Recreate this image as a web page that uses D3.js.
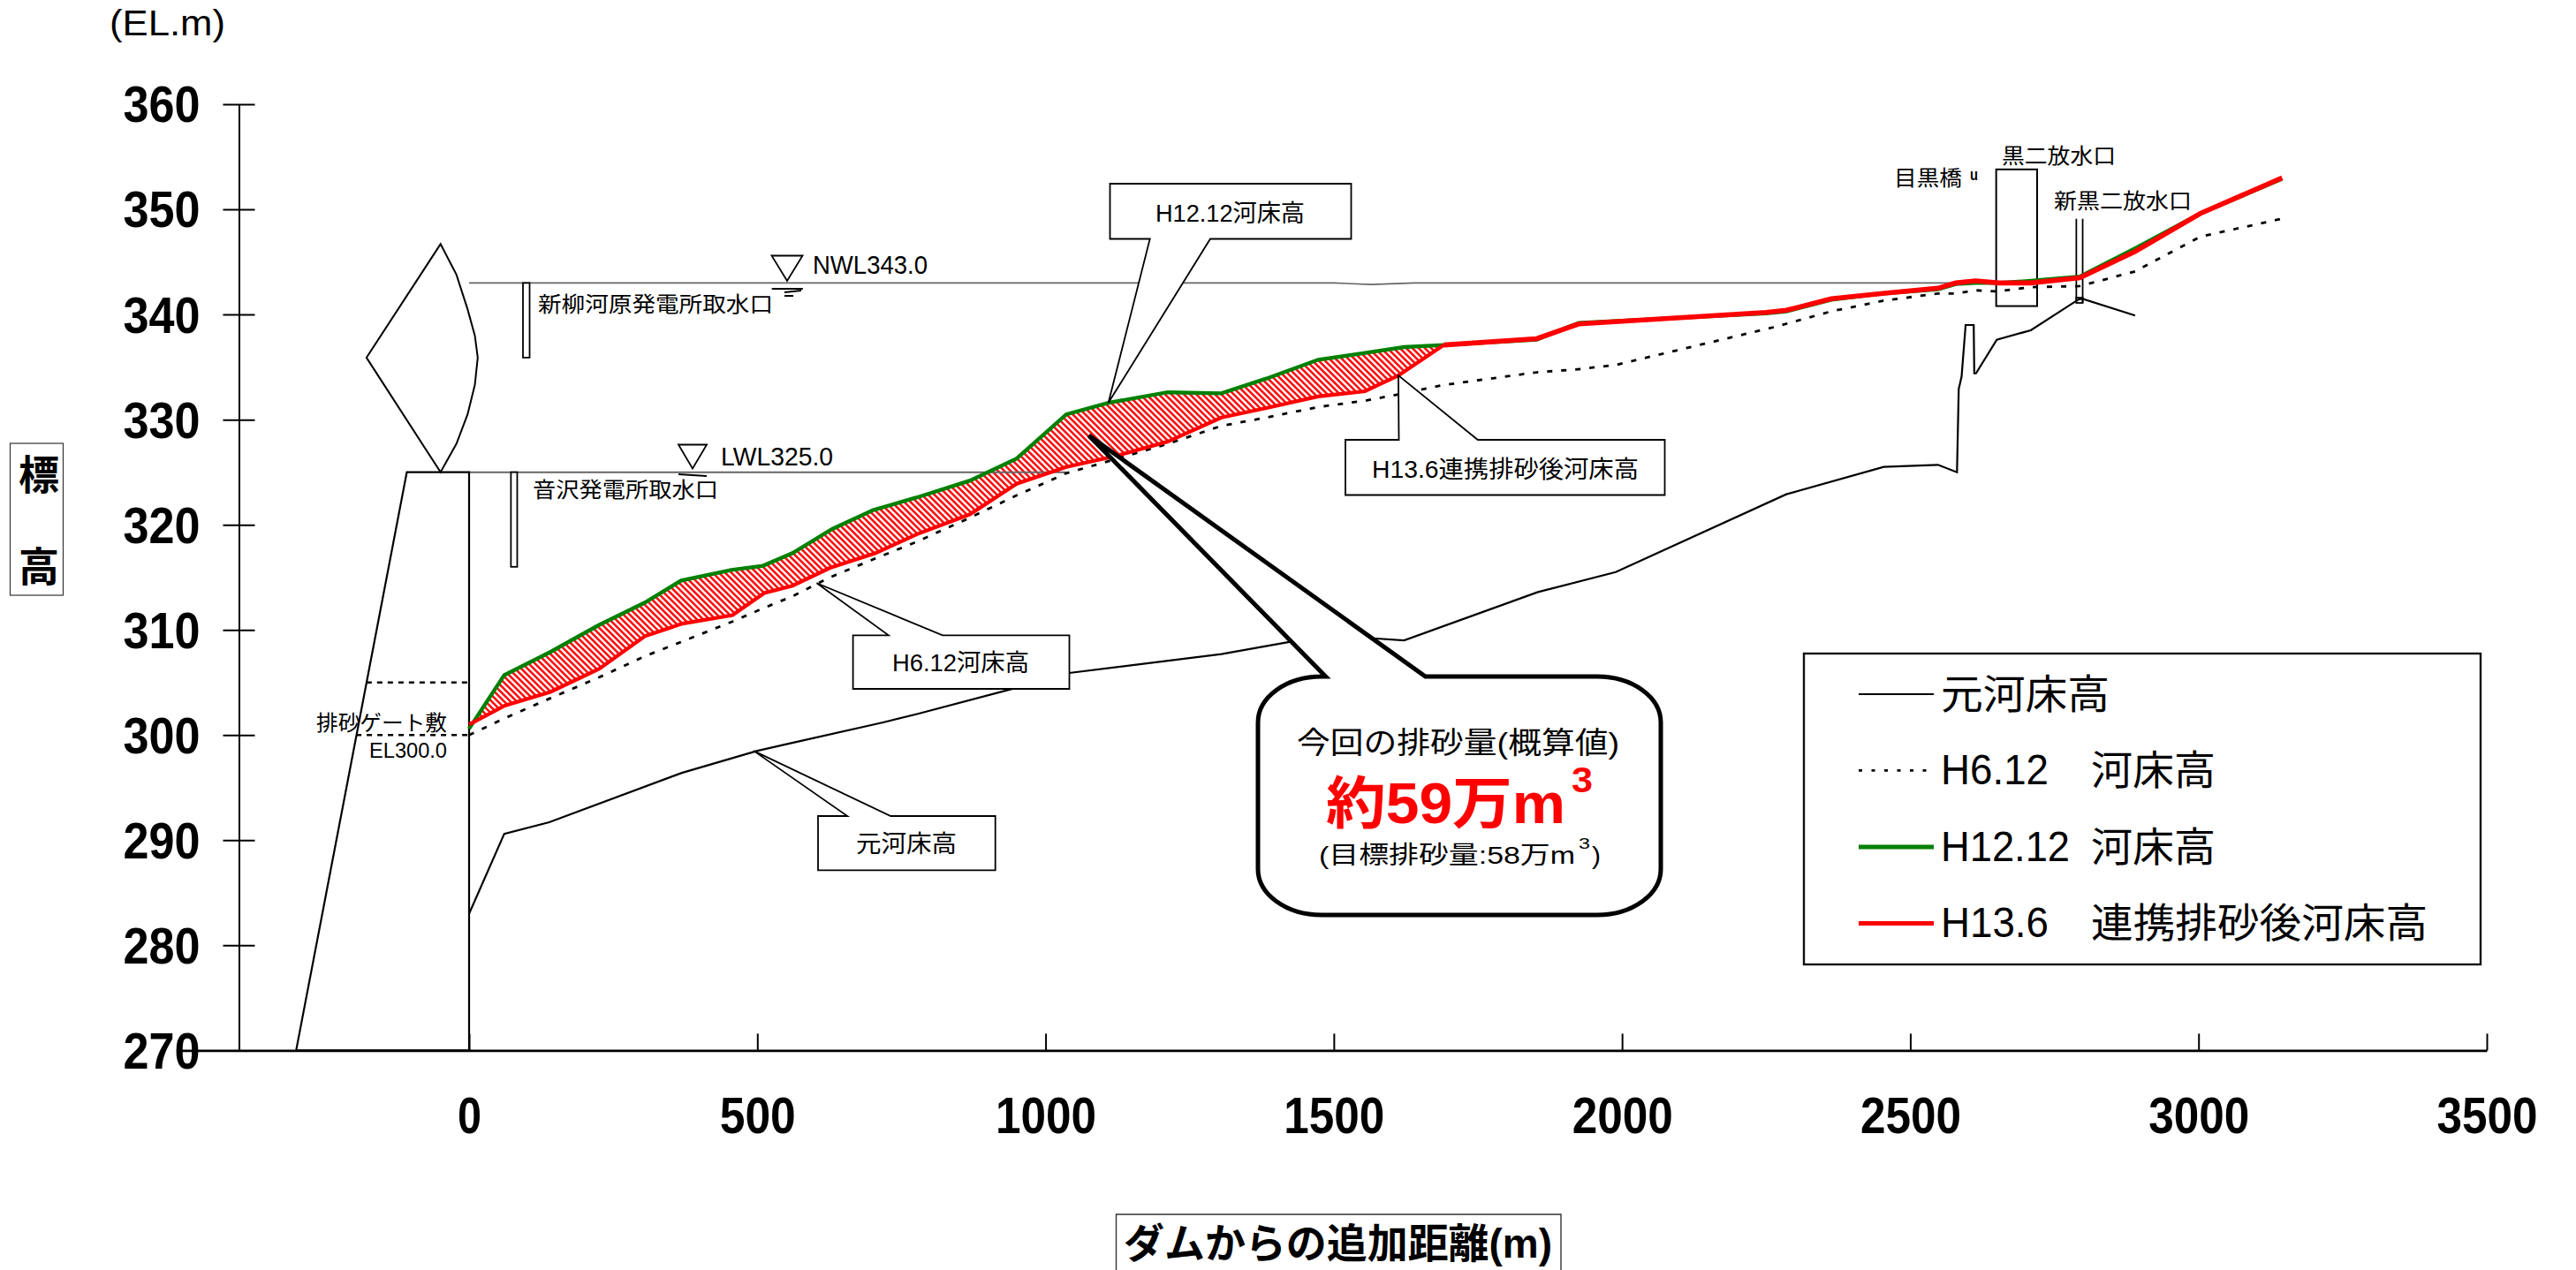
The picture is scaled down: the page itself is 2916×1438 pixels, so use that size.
<!DOCTYPE html>
<html>
<head>
<meta charset="utf-8">
<script src="https://d3js.org/d3.v7.min.js"></script>
<style>
body { margin: 0; background: #fff; }
text { font-family: "Liberation Sans", "Noto Sans CJK JP", sans-serif; fill: #000; }
</style>
</head>
<body>
<svg width="2916" height="1438"></svg>
<script>
// values: distance from dam (m), elevation (EL.m)
var xTicks = [0, 500, 1000, 1500, 2000, 2500, 3000, 3500];
var yTicks = [270, 280, 290, 300, 310, 320, 330, 340, 350, 360];

var originalBed = [[0,283],[61,290.6],[139,291.7],[369,296.4],[500,298.5],[564,299.3],[718,301.2],[777,302],[943,304.4],[1041,305.9],[1305,307.7],[1427,308.9],[1568,309.2],[1622,309],[1854,313.6],[1989,315.5],[2285,322.9],[2454,325.5],[2548,325.7],[2581,325],[2584,332.9],[2589,334.1],[2596,339],[2610,339],[2611,334.4],[2614,334.4],[2650,337.6],[2709,338.5],[2791,341.4],[2798,341.5],[2890,339.9]];

var h6 = [[0,300],[62,301.6],[141,303.5],[226,305.5],[305,307.5],[370,308.9],[457,310.8],[512,312.1],[561,313.2],[626,315],[705,316.8],[777,318.4],[866,320.6],[950,322.8],[1036,324.9],[1119,326.2],[1212,327.7],[1305,329.4],[1383,330.2],[1473,331.2],[1554,331.8],[1612,332.4],[1691,333.3],[1852,334.5],[1925,334.8],[1989,335.2],[2264,338.8],[2363,340.3],[2452,341.3],[2548,342],[2579,342],[2613,342.3],[2651,342.2],[2709,342.6],[2794,342.7],[2890,344.1],[3003,347.4],[3144,349.1]];

var h12 = [[0,300.6],[61,305.7],[141,307.9],[223,310.4],[305,312.6],[368,314.7],[455,315.7],[510,316.1],[561,317.3],[630,319.6],[701,321.4],[777,322.6],[869,324.2],[950,326.3],[1036,330.5],[1109,331.6],[1212,332.6],[1305,332.5],[1383,333.9],[1473,335.7],[1549,336.3],[1622,336.9],[1691,337.1],[1852,337.6],[1925,339.2],[2250,340.1],[2285,340.3],[2363,341.4],[2452,342],[2548,342.4],[2579,342.9],[2613,343],[2654,343],[2709,343.2],[2794,343.6],[2890,346.3],[3003,349.6],[3145,352.9]];

var h13 = [[0,301],[62,302.8],[141,304.1],[226,306.3],[305,309.4],[370,310.6],[457,311.4],[512,313.5],[561,314.2],[626,315.9],[705,317.3],[777,319.1],[869,321],[950,323.9],[1036,325.5],[1119,326.5],[1212,327.9],[1305,330.2],[1383,331.1],[1473,332.2],[1554,332.7],[1612,334.2],[1691,337.1],[1852,337.7],[1925,339.1],[2250,340.2],[2285,340.4],[2363,341.5],[2452,342],[2548,342.5],[2579,343],[2613,343.2],[2654,343],[2709,343],[2794,343.5],[2890,346],[3003,349.6],[3145,353]];

var damBody = [[-300,270],[-108,325],[0,325],[0,270]];
var damCrest = [[-49.5,346.7],[-22,343.8],[-2.6,340.5],[10,338],[15,335.9],[10,333.3],[-2.6,330.5],[-22,327.7],[-49.5,325],[-178,335.9]];
var nwlLine = [[0,343],[1500,343],[1565,342.85],[1640,343],[2579,343]];
var lwlLine = [[0,325],[1036,325]];
var intakes = [[93.5,105,343,335.9],[72.6,83.5,325,316]];
var gateLevels = [[-178,0,305],[-196,2,300]];
var outletBox = [2649,2720,353.8,340.8];
var newOutlet = [[2788,349.1,341.1],[2799,349.1,341.1]];
var newOutletBox = [2788,2799,341.6,341.1];

var legendNames = ["元河床高", "H6.12", "H12.12", "H13.6"];
var legendSuffix = ["", "河床高", "河床高", "連携排砂後河床高"];

var svg = d3.select("svg");
var x = d3.scaleLinear().domain([-504, 3500]).range([202.1, 2815]);
var y = d3.scaleLinear().domain([270, 360]).range([1189.4, 118]);
var line = d3.line().x(function(d) { return x(d[0]); }).y(function(d) { return y(d[1]); });

// left-to-right text squeezed to the width it has in the picture
function label(txt, x0, base, w, size, opts) {
    opts = opts || {};
    return svg.append("text")
        .attr("x", x0).attr("y", base)
        .attr("font-size", size)
        .attr("font-weight", opts.bold ? "bold" : "normal")
        .attr("textLength", w).attr("lengthAdjust", "spacingAndGlyphs")
        .style("fill", opts.fill || "#000")
        .text(txt);
}

// hatched sediment area between H12.12 and H13.6: stripes clipped to the area
var upper = h12.filter(function(d) { return d[0] <= 1691; });
var lower = h13.filter(function(d) { return d[0] <= 1691; }).reverse();
svg.append("defs").append("clipPath").attr("id", "sediment")
    .append("path").attr("d", line(upper.concat(lower)) + "Z");
var hatchTop = y(340), hatchHeight = y(300) - y(340);
svg.append("g").attr("clip-path", "url(#sediment)")
    .selectAll("line")
    .data(d3.range(x(0) - hatchHeight, x(1700), 7.07))
    .enter().append("line")
    .attr("x1", function(d) { return d; })
    .attr("y1", hatchTop)
    .attr("x2", function(d) { return d + hatchHeight; })
    .attr("y2", hatchTop + hatchHeight)
    .attr("stroke", "#ff1010").attr("stroke-width", 2.6);

// reservoir levels
svg.append("path").attr("d", line(nwlLine)).attr("fill", "none").attr("stroke", "#666").attr("stroke-width", 1.6);
svg.append("path").attr("d", line(lwlLine)).attr("fill", "none").attr("stroke", "#666").attr("stroke-width", 2);

// dam
svg.append("path").attr("d", line(damBody) + "Z").attr("fill", "none").attr("stroke", "#000").attr("stroke-width", 2.2);
svg.append("path").attr("d", line(damCrest) + "Z").attr("fill", "none").attr("stroke", "#000").attr("stroke-width", 2);
gateLevels.forEach(function(d) {
    svg.append("line").attr("x1", x(d[0])).attr("x2", x(d[1])).attr("y1", y(d[2])).attr("y2", y(d[2]))
        .attr("stroke", "#000").attr("stroke-width", 2.4).attr("stroke-dasharray", "6 6");
});
intakes.forEach(function(d) {
    svg.append("rect").attr("x", x(d[0])).attr("y", y(d[2])).attr("width", x(d[1]) - x(d[0])).attr("height", y(d[3]) - y(d[2]))
        .attr("fill", "#fff").attr("stroke", "#000").attr("stroke-width", 1.8);
});

// outlets
svg.append("rect").attr("x", x(outletBox[0])).attr("y", y(outletBox[2]))
    .attr("width", x(outletBox[1]) - x(outletBox[0])).attr("height", y(outletBox[3]) - y(outletBox[2]))
    .attr("fill", "none").attr("stroke", "#000").attr("stroke-width", 2);
newOutlet.forEach(function(d) {
    svg.append("line").attr("x1", x(d[0])).attr("x2", x(d[0])).attr("y1", y(d[1])).attr("y2", y(d[2]))
        .attr("stroke", "#000").attr("stroke-width", 1.8);
});
svg.append("rect").attr("x", x(newOutletBox[0])).attr("y", y(newOutletBox[2]))
    .attr("width", x(newOutletBox[1]) - x(newOutletBox[0])).attr("height", y(newOutletBox[3]) - y(newOutletBox[2]))
    .attr("fill", "none").attr("stroke", "#000").attr("stroke-width", 1.8);

// river bed lines
svg.append("path").attr("d", line(originalBed)).attr("fill", "none").attr("stroke", "#000").attr("stroke-width", 2.2);
svg.append("path").attr("d", line(h6)).attr("fill", "none").attr("stroke", "#000").attr("stroke-width", 2.8).attr("stroke-dasharray", "6 10");
svg.append("path").attr("d", line(h12)).attr("fill", "none").attr("stroke", "#008000").attr("stroke-width", 4.4);
svg.append("path").attr("d", line(h13.filter(function(d) { return d[0] <= 1691; })))
    .attr("fill", "none").attr("stroke", "#ff0000").attr("stroke-width", 4.2);
// past the flushing reach the red runs heavier
svg.append("path").attr("d", line(h13.filter(function(d) { return d[0] >= 1691; })))
    .attr("fill", "none").attr("stroke", "#ff0000").attr("stroke-width", 5.6);

// axes
var yAxis = svg.append("g").attr("transform", "translate(270.5,0)")
    .call(d3.axisLeft(y).tickValues(yTicks).tickSizeOuter(0).tickSizeInner(0).tickFormat(d3.format("d")));
yAxis.selectAll(".tick line").attr("x1", -18).attr("x2", 18).attr("stroke", "#000").attr("stroke-width", 2);
yAxis.select(".domain").attr("stroke", "#000").attr("stroke-width", 2);
yAxis.selectAll("text").attr("x", -44).attr("dy", "0.35em")
    .attr("font-size", 57).attr("font-weight", "bold")
    .attr("textLength", 87).attr("lengthAdjust", "spacingAndGlyphs");

var xAxis = svg.append("g").attr("transform", "translate(0,1189.4)")
    .call(d3.axisBottom(x).tickValues(xTicks).tickSizeOuter(0).tickSizeInner(-19).tickFormat(d3.format("d")));
xAxis.selectAll(".tick line").attr("stroke", "#000").attr("stroke-width", 2);
xAxis.select(".domain").attr("stroke", "#000").attr("stroke-width", 2.6);
xAxis.selectAll("text").attr("y", 94).attr("dy", 0)
    .attr("font-size", 57).attr("font-weight", "bold")
    .attr("textLength", function(d) { return d === 0 ? 27 : (d < 1000 ? 86 : 114); })
    .attr("lengthAdjust", "spacingAndGlyphs");
svg.selectAll(".tick text").style("fill", "#000").attr("font-family", null);

// axis titles
svg.append("rect").attr("x", 11.5).attr("y", 502).attr("width", 60).attr("height", 172)
    .attr("fill", "#fff").attr("stroke", "#333").attr("stroke-width", 1.2);
label("標", 21, 554, 46, 46, {bold: true});
label("高", 21, 658, 46, 46, {bold: true});
label("(EL.m)", 124, 40, 131, 40);

svg.append("path").attr("d", "M1263.5,1438V1375H1767V1438").attr("fill", "none").attr("stroke", "#333").attr("stroke-width", 1.4);
label("ダムからの追加距離(m)", 1272, 1424, 485, 46, {bold: true});

// level marks
function levelMark(cx, top, bottom, half) {
    svg.append("path").attr("d", "M" + (cx - half) + "," + top + "H" + (cx + half) + "L" + cx + "," + bottom + "Z")
        .attr("fill", "#fff").attr("stroke", "#000").attr("stroke-width", 1.8);
}
levelMark(891, 289.5, 318, 17.5);
levelMark(784, 503.5, 530.5, 16);
svg.append("path").attr("d", "M873.7,327H908.8M888,331L907,329M888,335H898").attr("fill", "none").attr("stroke", "#000").attr("stroke-width", 1.8);
svg.append("path").attr("d", "M768,537L800,539").attr("fill", "none").attr("stroke", "#000").attr("stroke-width", 1.8);

label("NWL343.0", 920, 310, 130, 30);
label("LWL325.0", 816, 527, 127, 29);
label("新柳河原発電所取水口", 609, 353, 266, 24);
label("音沢発電所取水口", 603, 563, 210, 24);
label("排砂ゲート敷", 358, 827, 148, 24);
label("EL300.0", 418, 858, 88, 23);
label("目黒橋", 2144, 210, 77, 24);
label("u", 2230, 204, 9, 18, {bold: true});
label("黒二放水口", 2266, 185, 129, 24);
label("新黒二放水口", 2325, 236, 156, 24);

// callouts: box plus pointer with its tip on a river bed
function callout(bx0, by0, bx1, by1, tx, ty, p0, p1, edge, width) {
    var d;
    if (edge === "top") {
        d = "M" + bx0 + "," + by0 + "H" + p0 + "L" + tx + "," + ty + "L" + p1 + "," + by0 + "H" + bx1 + "V" + by1 + "H" + bx0 + "Z";
    } else {
        d = "M" + bx0 + "," + by0 + "H" + bx1 + "V" + by1 + "H" + p1 + "L" + tx + "," + ty + "L" + p0 + "," + by1 + "H" + bx0 + "Z";
    }
    svg.append("path").attr("d", d).attr("fill", "#fff").attr("stroke", "#000").attr("stroke-width", width);
}
callout(1256.5, 208, 1529.5, 270.5, x(1109), y(331.6), 1301.7, 1370, "bottom", 1.8);
callout(1523, 498, 1884.5, 560.5, x(1612), y(334.2), 1583.5, 1672.8, "top", 1.8);
callout(965.6, 719.3, 1210.5, 780, x(603), y(314.45), 1005.8, 1067, "top", 1.8);
callout(926, 924, 1126.7, 985.3, x(493.5), y(298.5), 959.3, 1008.3, "top", 1.8);
label("H12.12河床高", 1308, 251, 169, 27);
label("H13.6連携排砂後河床高", 1553, 541, 302, 27);
label("H6.12河床高", 1010, 760, 155, 27);
label("元河床高", 969, 965, 114, 27);

// big callout with volume
var bl = 1424, br = 1880, bt = 766, bb = 1036, rx = 72, ry = 52;
svg.append("path").attr("d",
    "M" + (bl + rx) + "," + bt + "H1500.6L" + x(1075) + "," + y(328.5) + "L1613.5," + bt + "H" + (br - rx) +
    "A" + rx + "," + ry + " 0 0 1 " + br + "," + (bt + ry) + "V" + (bb - ry) +
    "A" + rx + "," + ry + " 0 0 1 " + (br - rx) + "," + bb + "H" + (bl + rx) +
    "A" + rx + "," + ry + " 0 0 1 " + bl + "," + (bb - ry) + "V" + (bt + ry) +
    "A" + rx + "," + ry + " 0 0 1 " + (bl + rx) + "," + bt + "Z")
    .attr("fill", "#fff").attr("stroke", "#000").attr("stroke-width", 5);
label("今回の排砂量(概算値)", 1468, 853, 365, 34);
label("約59万m", 1501, 932, 271, 64, {bold: true, fill: "#ff0000"});
label("3", 1779, 897, 24, 40, {bold: true, fill: "#ff0000"});
label("(目標排砂量:58万m", 1493, 978, 290, 28);
label("3", 1787, 961, 13, 17);
label(")", 1802, 978, 10, 28);

// legend
svg.append("rect").attr("x", 2042).attr("y", 740).attr("width", 766).attr("height", 352)
    .attr("fill", "#fff").attr("stroke", "#111").attr("stroke-width", 2.4);
var legendY = d3.scalePoint().domain(legendNames).range([786, 1045.4]);
var legendStyle = [
    {stroke: "#000", width: 2, dash: null},
    {stroke: "#000", width: 2.8, dash: "4 10.5"},
    {stroke: "#008000", width: 5, dash: null},
    {stroke: "#ff0000", width: 5, dash: null}
];
var legendWidth = [191, 122, 146, 122];
var suffixWidth = [0, 141, 141, 381];
legendNames.forEach(function(name, i) {
    var ly = legendY(name), st = legendStyle[i];
    svg.append("line").attr("x1", 2104).attr("x2", 2189).attr("y1", ly).attr("y2", ly)
        .attr("stroke", st.stroke).attr("stroke-width", st.width).attr("stroke-dasharray", st.dash);
    label(name, 2197, ly + 16, legendWidth[i], i === 0 ? 46 : 48);
    if (legendSuffix[i]) label(legendSuffix[i], 2367, ly + 16, suffixWidth[i], 46);
});
</script>
</body>
</html>
